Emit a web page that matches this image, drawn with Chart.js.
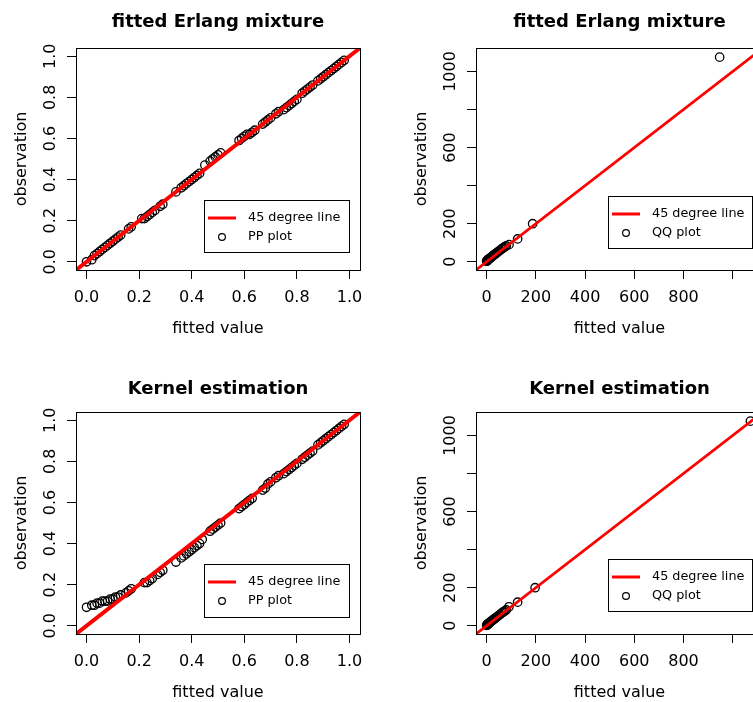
<!DOCTYPE html>
<html>
<head>
<meta charset="utf-8">
<script src="https://cdn.jsdelivr.net/npm/chart.js@4"></script>
<style>
  html, body { margin: 0; padding: 0; background: #fff; overflow: hidden; }
  #wrap { position: relative; width: 753px; height: 702px; overflow: hidden; background: #fff; }
  canvas { position: absolute; }
</style>
</head>
<body>
<div id="wrap">
  <canvas id="c1" width="376" height="351" style="left:0px;top:0px"></canvas>
  <canvas id="c2" width="400" height="351" style="left:376px;top:0px"></canvas>
  <canvas id="c3" width="376" height="351" style="left:0px;top:351px"></canvas>
  <canvas id="c4" width="400" height="351" style="left:376px;top:351px"></canvas>
</div>
<script>
// ---------------- data ----------------
const erlangPPFitted = [
  0.00,0.02,0.03,0.04,0.05,0.06,0.07,0.08,0.09,0.10,
  0.11,0.12,0.13,0.16,0.17,0.21,0.22,0.23,0.24,0.25,
  0.26,0.28,0.29,0.34,0.36,0.37,0.38,0.39,0.40,0.41,
  0.42,0.43,0.45,0.47,0.48,0.49,0.50,0.51,0.58,0.59,
  0.60,0.61,0.62,0.63,0.64,0.67,0.68,0.69,0.70,0.72,
  0.73,0.75,0.76,0.77,0.78,0.79,0.80,0.82,0.83,0.84,
  0.85,0.86,0.88,0.89,0.90,0.91,0.92,0.93,0.94,0.95,
  0.96,0.97,0.98];
const erlangPPObs = [
  0.00,0.01,0.03,0.04,0.05,0.06,0.07,0.08,0.09,0.10,
  0.11,0.12,0.13,0.16,0.17,0.21,0.21,0.22,0.23,0.24,
  0.25,0.27,0.28,0.34,0.36,0.37,0.38,0.39,0.40,0.41,
  0.42,0.43,0.47,0.49,0.50,0.51,0.52,0.53,0.59,0.60,
  0.61,0.62,0.62,0.63,0.64,0.67,0.68,0.69,0.70,0.72,
  0.73,0.74,0.75,0.76,0.77,0.78,0.79,0.82,0.83,0.84,
  0.85,0.86,0.88,0.89,0.90,0.91,0.92,0.93,0.94,0.95,
  0.96,0.97,0.98];

const kernelPPFitted = [
  0.00,0.02,0.03,0.04,0.05,0.06,0.07,0.08,0.09,0.10,
  0.11,0.12,0.13,0.15,0.16,0.17,0.22,0.23,0.24,0.25,
  0.27,0.28,0.29,0.34,0.36,0.37,0.38,0.39,0.40,0.41,
  0.42,0.43,0.44,0.47,0.48,0.49,0.50,0.51,0.58,0.59,
  0.60,0.61,0.62,0.63,0.67,0.68,0.69,0.70,0.72,0.73,
  0.75,0.76,0.77,0.78,0.79,0.80,0.82,0.83,0.84,0.85,
  0.86,0.88,0.89,0.90,0.91,0.92,0.93,0.94,0.95,0.96,
  0.97,0.98];
const kernelPPObs = [
  0.09,0.10,0.10,0.11,0.11,0.12,0.12,0.12,0.13,0.13,
  0.14,0.14,0.15,0.16,0.17,0.18,0.21,0.21,0.22,0.23,
  0.25,0.26,0.27,0.31,0.33,0.34,0.35,0.36,0.37,0.38,
  0.39,0.40,0.42,0.46,0.47,0.48,0.49,0.50,0.57,0.58,
  0.59,0.60,0.61,0.62,0.66,0.67,0.69,0.70,0.72,0.73,
  0.74,0.75,0.76,0.77,0.78,0.79,0.81,0.82,0.83,0.84,
  0.85,0.88,0.89,0.90,0.91,0.92,0.93,0.94,0.95,0.96,
  0.97,0.98];

const erlangQQFitted = [0,1,2,3,4,5,6,8,10,12,14,16,18,20,23,26,29,32,35,38,42,46,50,55,60,65,70,75,80,91,126,187,947];
const erlangQQObs    = [3,4,6,7,8,10,11,13,15,17,19,21,23,26,29,32,35,38,41,44,48,52,56,61,66,71,75,80,84,90,120,200,1075];

const kernelQQFitted = [0,1,2,3,4,5,6,8,10,12,14,16,18,20,23,26,29,32,35,38,42,46,50,55,60,65,70,75,80,91,126,197,1072];
const kernelQQObs    = [2,3,5,6,7,9,10,12,14,16,19,21,23,25,28,31,34,37,40,43,47,51,55,60,65,70,75,79,84,100,124,200,1075];

const ppLimits = [-0.04, 1.04];
const qqLimits = [-43.2, 1123.2];

const ppTicks = [0, 0.2, 0.4, 0.6, 0.8, 1.0];
const ppTickLabels = ['0.0','0.2','0.4','0.6','0.8','1.0'];
const qqXTicks = [0, 200, 400, 600, 800, 1000];
const qqXTickLabels = ['0','200','400','600','800',''];
const qqYTicks = [0, 200, 400, 600, 800, 1000];
const qqYTickLabels = ['0','200','','600','','1000'];

// ---------------- drawing ----------------
const FONT = '"DejaVu Sans", "Liberation Sans", Arial, sans-serif';

const decor = {
  id: 'decor',
  afterDraw(chart, args, o) {
    const { ctx, chartArea: a, scales } = chart;
    ctx.save();
    // plot box
    ctx.strokeStyle = '#000';
    ctx.lineWidth = 1;
    ctx.strokeRect(Math.round(a.left) + 0.5, Math.round(a.top) + 0.5,
                   Math.round(a.right - a.left), Math.round(a.bottom - a.top));
    ctx.fillStyle = '#000';
    // main title
    ctx.font = 'bold 18px ' + FONT;
    ctx.textAlign = 'center';
    ctx.textBaseline = 'alphabetic';
    ctx.fillText(o.title, (a.left + a.right) / 2, a.top - o.titleGap);
    // axis titles
    ctx.font = '16px ' + FONT;
    ctx.fillText(o.xTitle, (a.left + a.right) / 2, a.bottom + 63);
    ctx.save();
    ctx.translate(a.left - 50, (a.top + a.bottom) / 2);
    ctx.rotate(-Math.PI / 2);
    ctx.fillText(o.yTitle, 0, 0);
    ctx.restore();
    // y tick labels (parallel to axis)
    const ys = scales.y;
    ys.ticks.forEach(t => {
      if (!t.label) return;
      const py = ys.getPixelForValue(t.value);
      ctx.save();
      ctx.translate(a.left - 21, py);
      ctx.rotate(-Math.PI / 2);
      ctx.fillText(t.label, 0, 0);
      ctx.restore();
    });
    // legend
    const lg = o.legend;
    ctx.strokeStyle = '#000';
    ctx.lineWidth = 1;
    ctx.strokeRect(Math.round(lg.x) + 0.5, Math.round(lg.y) + 0.5, lg.w, lg.h);
    ctx.strokeStyle = '#ff0000';
    ctx.lineWidth = 3;
    ctx.beginPath();
    ctx.moveTo(lg.x + 4, lg.y + 18);
    ctx.lineTo(lg.x + 32, lg.y + 18);
    ctx.stroke();
    ctx.strokeStyle = '#000';
    ctx.lineWidth = 1.2;
    ctx.beginPath();
    ctx.arc(lg.x + 18, lg.y + 37, 3.4, 0, Math.PI * 2);
    ctx.stroke();
    ctx.font = '12.8px ' + FONT;
    ctx.textAlign = 'left';
    ctx.textBaseline = 'middle';
    ctx.fillText(lg.labels[0], lg.x + 44, lg.y + 18);
    ctx.fillText(lg.labels[1], lg.x + 44, lg.y + 37);
    ctx.restore();
  }
};

function makeChart(id, p) {
  const canvas = document.getElementById(id);
  const W = canvas.width, H = canvas.height;
  const pts = p.fitted.map((v, i) => ({ x: v, y: p.obs[i] }));
  const tickGrid = { display: true, drawOnChartArea: false, drawTicks: true,
                     tickLength: 9, color: '#000', tickColor: '#000', tickWidth: 1, lineWidth: 1 };
  return new Chart(canvas, {
    type: 'scatter',
    data: {
      datasets: [
        {
          label: '45 degree line',
          data: [{ x: p.lim[0], y: p.lim[0] }, { x: p.lim[1], y: p.lim[1] }],
          showLine: true,
          borderColor: '#ff0000',
          borderWidth: p.lineW,
          pointRadius: 0,
          clip: 0
        },
        {
          label: p.pointLabel,
          data: pts,
          showLine: false,
          pointStyle: 'circle',
          pointRadius: 4.2,
          pointBorderWidth: 1.3,
          pointBorderColor: '#000',
          pointBackgroundColor: 'rgba(0,0,0,0)'
        }
      ]
    },
    options: {
      responsive: false,
      devicePixelRatio: 1,
      animation: false,
      events: [],
      layout: { padding: { left: 0, top: p.area.top, right: W - p.area.right, bottom: 0 } },
      plugins: {
        legend: { display: false },
        tooltip: { enabled: false },
        title: { display: false },
        decor: {
          title: p.title, titleGap: p.titleGap,
          xTitle: 'fitted value', yTitle: 'observation',
          legend: p.legend
        }
      },
      scales: {
        x: {
          type: 'linear',
          min: p.lim[0], max: p.lim[1],
          afterFit(s) { s.height = H - p.area.bottom; },
          afterBuildTicks(s) { s.ticks = p.xTicks.map(v => ({ value: v })); },
          ticks: {
            autoSkip: false, maxRotation: 0, minRotation: 0, includeBounds: false,
            padding: 9, color: '#000',
            font: { family: FONT, size: 16 },
            callback: (v, i) => p.xLabels[i]
          },
          grid: tickGrid,
          border: { display: false }
        },
        y: {
          type: 'linear',
          min: p.lim[0], max: p.lim[1],
          afterFit(s) { s.width = p.area.left; },
          afterBuildTicks(s) { s.ticks = p.yTicks.map(v => ({ value: v })); },
          ticks: {
            autoSkip: false, includeBounds: false,
            color: 'rgba(0,0,0,0)',
            font: { family: FONT, size: 16 },
            callback: (v, i) => p.yLabels[i]
          },
          grid: tickGrid,
          border: { display: false }
        }
      }
    },
    plugins: [decor]
  });
}

makeChart('c1', {
  fitted: erlangPPFitted, obs: erlangPPObs, lim: ppLimits, lineW: 4,
  xTicks: ppTicks, xLabels: ppTickLabels, yTicks: ppTicks, yLabels: ppTickLabels,
  area: { left: 76, top: 48, right: 360, bottom: 270 },
  title: 'fitted Erlang mixture', titleGap: 21, pointLabel: 'PP plot',
  legend: { x: 204, y: 200, w: 145, h: 52, labels: ['45 degree line', 'PP plot'] }
});
makeChart('c2', {
  fitted: erlangQQFitted, obs: erlangQQObs, lim: qqLimits, lineW: 2.7,
  xTicks: qqXTicks, xLabels: qqXTickLabels, yTicks: qqYTicks, yLabels: qqYTickLabels,
  area: { left: 100, top: 48, right: 387, bottom: 270 },
  title: 'fitted Erlang mixture', titleGap: 21, pointLabel: 'QQ plot',
  legend: { x: 232, y: 196, w: 144, h: 52, labels: ['45 degree line', 'QQ plot'] }
});
makeChart('c3', {
  fitted: kernelPPFitted, obs: kernelPPObs, lim: ppLimits, lineW: 4,
  xTicks: ppTicks, xLabels: ppTickLabels, yTicks: ppTicks, yLabels: ppTickLabels,
  area: { left: 76, top: 61, right: 360, bottom: 283 },
  title: 'Kernel estimation', titleGap: 18, pointLabel: 'PP plot',
  legend: { x: 204, y: 213, w: 145, h: 53, labels: ['45 degree line', 'PP plot'] }
});
makeChart('c4', {
  fitted: kernelQQFitted, obs: kernelQQObs, lim: qqLimits, lineW: 2.7,
  xTicks: qqXTicks, xLabels: qqXTickLabels, yTicks: qqYTicks, yLabels: qqYTickLabels,
  area: { left: 100, top: 61, right: 387, bottom: 283 },
  title: 'Kernel estimation', titleGap: 18, pointLabel: 'QQ plot',
  legend: { x: 232, y: 208, w: 144, h: 52, labels: ['45 degree line', 'QQ plot'] }
});
</script>
</body>
</html>
